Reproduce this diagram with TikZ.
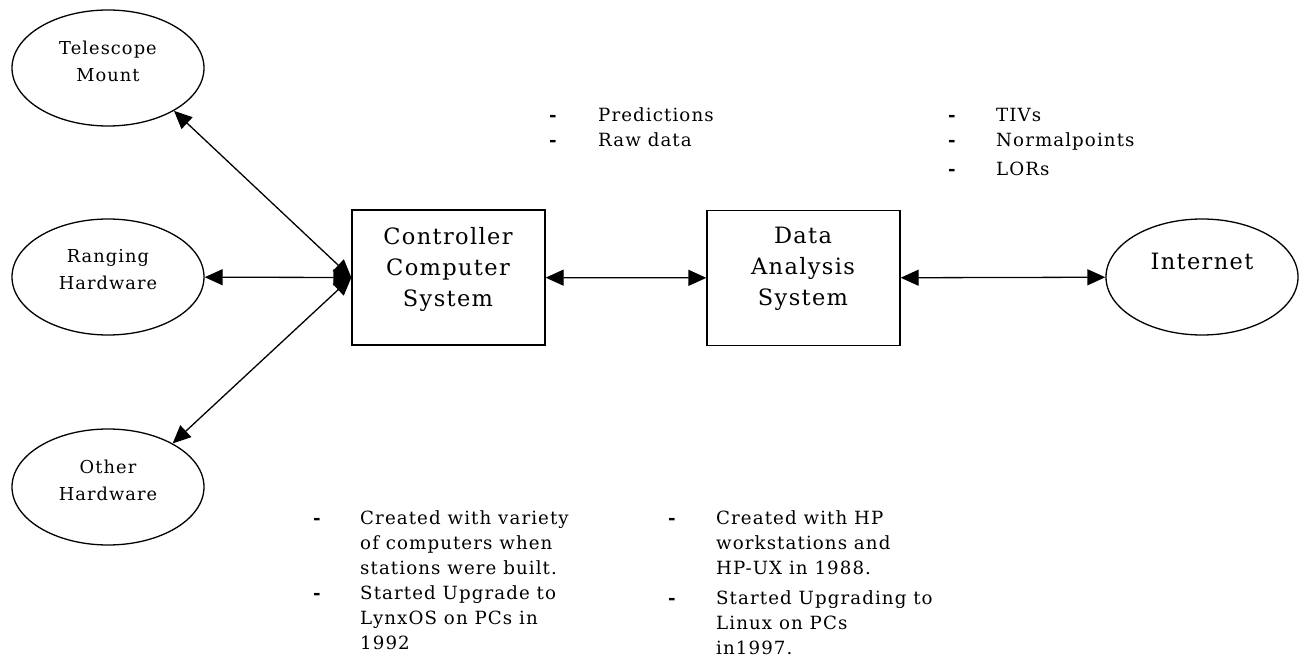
\documentclass[tikz,border=0pt]{standalone}
\usepackage{fontspec}
\setmainfont{DejaVu Serif}[LetterSpace=6]
\usetikzlibrary{shapes.geometric,arrows.meta}
\newcommand{\bul}{\textbf{-}}
\begin{document}
\begin{tikzpicture}[x=1pt,y=-1pt,
  ell/.style={draw, ellipse, minimum width=192pt, minimum height=116pt, line width=1.3pt, inner sep=0pt},
  box/.style={draw, rectangle, minimum width=193pt, minimum height=135pt, line width=1.3pt, inner sep=0pt},
  lab/.style={align=center, inner sep=0pt, font=\fontsize{17.8}{27}\selectfont},
  biglab/.style={align=center, inner sep=0pt, font=\fontsize{22.5}{31}\selectfont},
  note/.style={anchor=base west, inner sep=0pt, font=\fontsize{18.2}{25}\selectfont},
  link/.style={line width=1.3pt, {Triangle[length=18pt,width=16pt]}-{Triangle[length=18pt,width=16pt]}}]
\useasboundingbox (0,0) rectangle (1299,660);
\fill[white] (0,0) rectangle (1299,660);
% shapes
\node[ell] (tel) at (108,68) {};
\node[ell] (rng) at (108,277) {};
\node[ell] (oth) at (108,487) {};
\node[box] (ctrl) at (448.5,277.5) {};
\node[box] (das) at (803.5,278) {};
\node[ell] (inet) at (1202,277) {};
% labels
\node[lab] (telt) at (108,61) {Telescope\\Mount};
\node[lab] (rngt) at (108,270) {Ranging\\Hardware};
\node[lab] (otht) at (108,480) {Other\\Hardware};
\node[biglab] (ctrlt) at (448,269) {Controller\\Computer\\System};
\node[biglab] (dast) at (803,269) {Data\\Analysis\\System};
\node[biglab] (inett) at (1202,261) {Internet};
% connectors
\draw[link] (tel.-33) -- (ctrl.west);
\draw[link] (rng) -- (ctrl.west);
\draw[link] (oth.34) -- (ctrl.west);
\draw[link] (ctrl) -- (das);
\draw[link] (das) -- (inet);
% notes
\node[note] (n1) at (549,122) {\begin{tabular}[t]{@{}p{49pt}@{}l@{}}
\bul & Predictions\\
\bul & Raw data
\end{tabular}};
\node[note] (n2) at (948,122) {\begin{tabular}[t]{@{}p{48pt}@{}l@{}}
\bul & TIVs\\
\bul & Normalpoints\\[4pt]
\bul & LORs
\end{tabular}};
\node[note] (n3) at (313,524) {\begin{tabular}[t]{@{}p{47pt}@{}l@{}}
\bul & Created with variety\\
 & of computers when\\
 & stations were built.\\
\bul & Started Upgrade to\\
 & LynxOS on PCs in\\
 & 1992
\end{tabular}};
\node[note] (n4) at (668,524) {\begin{tabular}[t]{@{}p{48pt}@{}l@{}}
\bul & Created with HP\\
 & workstations and\\
 & HP-UX in 1988.\\[5pt]
\bul & Started Upgrading to\\
 & Linux on PCs\\
 & in1997.
\end{tabular}};
\end{tikzpicture}
\end{document}
